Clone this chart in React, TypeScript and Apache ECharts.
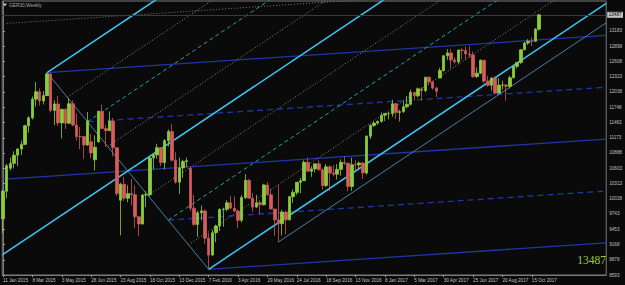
import React, { useEffect, useRef } from "react";
import * as echarts from "echarts";

// ---- axis labels ----
const dateLabels = [
  "11 Jan 2015", "8 Mar 2015", "3 May 2015", "28 Jun 2015", "23 Aug 2015", "18 Oct 2015",
  "13 Dec 2015", "7 Feb 2016", "3 Apr 2016", "29 May 2016", "24 Jul 2016", "18 Sep 2016",
  "13 Nov 2016", "8 Jan 2017", "5 Mar 2017", "30 Apr 2017", "25 Jun 2017", "20 Aug 2017", "15 Oct 2017",
];
const dateLabelWeeks = [0, 8, 16, 24, 32, 40, 48, 56, 64, 72, 80, 88, 96, 104, 112, 120, 128, 136, 144];
const priceLabels = [8593, 8878, 9168, 9453, 9743, 10028, 10313, 10603, 10888, 11173, 11463, 11748, 12038, 12323, 12608, 12898, 13183];

// ---- weekly OHLC, week index 0 = 11 Jan 2015 ----
const opens = [
  9650, 10168, 10600, 10694, 10846, 10963, 11050, 11401, 11550, 11901, 12040,
  11868, 11967, 12375, 11689, 11811, 11454, 11709, 11447, 11815, 11413,
  11197, 11196, 11040, 11100, 10760, 11100, 11673, 11347, 11308, 11490,
  10985, 10000, 10298, 10038, 10123, 10104, 9688, 9553, 10096, 10104,
  10795, 10850, 10988, 10708, 11119, 11293, 10752, 10340, 10608, 10727,
  10600, 9849, 9545, 9764, 9798, 9286, 8967, 9388, 9513, 9824,
  9831, 9950, 9851, 9794, 9622, 10051, 10373, 10039, 9870, 9952,
  9916, 10287, 10103, 9834, 9631, 9557, 9776, 9630, 10066, 10147,
  10337, 10367, 10713, 10544, 10588, 10684, 10573, 10276, 10627, 10511,
  10490, 10580, 10711, 10696, 10259, 10667, 10664, 10699, 10513, 11203,
  11404, 11450, 11481, 11599, 11629, 11630, 11814, 11651, 11666, 11757,
  11804, 12027, 11963, 12095, 12064, 12313, 12225, 12109, 12300, 12438,
  12717, 12770, 12638, 12602, 12823, 12815, 12752, 12733, 12325, 12389,
  12631, 12240, 12162, 12297, 12014, 12165, 12168, 12142, 12304, 12518,
  12592, 12829, 12956, 12992, 12991, 13217,
];
const highs = [
  10200, 10680, 10800, 10920, 10980, 11120, 11420, 11580, 11950, 12220, 12100,
  12050, 12400, 12390, 11880, 11960, 11720, 11730, 11920, 11880, 11630,
  11380, 11200, 11660, 11250, 11220, 11680, 11800, 11420, 11670, 11550,
  11000, 10330, 10440, 10280, 10400, 10280, 9700, 10120, 10170, 10830,
  10880, 11060, 11000, 11150, 11330, 11430, 10900, 10800, 10760, 10800,
  10620, 10100, 9800, 9900, 9830, 9390, 9440, 9540, 9850, 9860,
  10000, 10080, 10070, 9830, 10100, 10490, 10400, 10140, 10100, 10000,
  10310, 10340, 10210, 9840, 10280, 9820, 9800, 10080, 10200, 10340,
  10420, 10750, 10800, 10640, 10690, 10750, 10600, 10680, 10660, 10660,
  10680, 10770, 10830, 10700, 10800, 10750, 10730, 10720, 11220, 11430,
  11480, 11500, 11650, 11640, 11660, 11890, 11830, 11700, 11870, 11960,
  12080, 12040, 12120, 12130, 12320, 12330, 12250, 12130, 12490, 12720,
  12840, 12840, 12690, 12830, 12860, 12890, 12900, 12800, 12500, 12650,
  12640, 12340, 12320, 12330, 12300, 12250, 12180, 12340, 12530, 12600,
  12840, 12980, 13030, 13060, 13240, 13500,
];
const lows = [
  9380, 10040, 10560, 10600, 10640, 10850, 11040, 11270, 11520, 11760, 11780,
  11800, 11960, 11650, 11410, 11400, 11160, 11340, 11440, 11390, 11120,
  10960, 10780, 11020, 10790, 10560, 11080, 11340, 11000, 11300, 10820,
  10080, 9340, 9990, 9960, 9900, 9480, 9330, 9540, 9870, 10070,
  10580, 10780, 10640, 10580, 11010, 10730, 10310, 10120, 10420, 10620,
  9800, 9520, 9310, 9620, 9180, 8700, 8960, 9210, 9420, 9500,
  9790, 9830, 9780, 9480, 9580, 10020, 10030, 9780, 9860, 9740,
  9900, 10080, 9830, 9330, 9214, 9340, 9360, 9620, 9950, 10100,
  10130, 10360, 10540, 10440, 10520, 10560, 10200, 10250, 10170, 10450,
  10390, 10460, 10660, 10170, 10175, 10560, 10580, 10400, 10480, 11150,
  11380, 11420, 11460, 11490, 11520, 11570, 11530, 11480, 11640, 11730,
  11780, 11880, 11930, 11870, 12030, 12160, 12080, 11940, 12290, 12420,
  12640, 12480, 12570, 12560, 12650, 12630, 12680, 12300, 12300, 12370,
  12200, 12130, 12060, 11990, 12000, 12080, 11870, 12100, 12290, 12480,
  12560, 12820, 12920, 12900, 12980, 13190,
];
const closes = [
  10168, 10649, 10694, 10846, 10963, 11050, 11401, 11550, 11901, 12040, 11868,
  11967, 12375, 11689, 11811, 11454, 11709, 11447, 11815, 11413, 11197,
  11196, 11040, 11492, 10890, 10996, 11673, 11347, 11308, 11490, 10985,
  10124, 10298, 10038, 10123, 10104, 9688, 9553, 10096, 10104, 10795,
  10850, 10988, 10708, 11119, 11293, 10752, 10340, 10608, 10727, 10743,
  9849, 9545, 9764, 9798, 9286, 8967, 9388, 9513, 9824, 9831,
  9950, 9851, 9794, 9622, 10051, 10373, 10039, 9870, 9952, 9916,
  10287, 10103, 9834, 9631, 9557, 9776, 9630, 10066, 10147, 10337,
  10367, 10713, 10544, 10588, 10684, 10573, 10276, 10627, 10511, 10490,
  10580, 10711, 10696, 10259, 10667, 10664, 10699, 10513, 11203, 11404,
  11450, 11481, 11599, 11629, 11630, 11814, 11651, 11666, 11757, 11804,
  12027, 11963, 12095, 12064, 12313, 12225, 12109, 12049, 12438, 12717,
  12770, 12638, 12602, 12823, 12815, 12752, 12733, 12325, 12389, 12631,
  12240, 12162, 12297, 12014, 12165, 12168, 12142, 12304, 12518, 12592,
  12829, 12956, 12992, 12991, 13217, 13487,
];

// ---- drawing-tool anchors: [week index, price] ----
const pivotHigh = [12, 12400];
const pivotLow = [56, 8700];
const swingLow = [75, 9214];
const upperAnchor = [1, 13325];
const forkSlope = 46.2; // points per week (steep pitchfork)
const flatSlope = 4.6; // points per week (flat pitchfork)
const lastPrice = 13487;
const symbolTitle = "GER30,Weekly";

const X_MIN = -0.2;
const X_MAX = 164.25;
const Y_MIN = 8593;
const Y_MAX = 13747;

function ray(x0: number, y0: number, slope: number, xa: number, xb: number) {
  return [
    [xa, y0 + slope * (xa - x0)],
    [xb, y0 + slope * (xb - x0)],
  ];
}
function forkPoint(f: number) {
  return [pivotHigh[0] + f * (pivotLow[0] - pivotHigh[0]), pivotHigh[1] + f * (pivotLow[1] - pivotHigh[1])];
}
function lineSeries(data: number[][], color: string, width: number, type: any, z = 3) {
  return {
    type: "line",
    data,
    symbol: "none",
    silent: true,
    clip: true,
    z,
    lineStyle: { color, width, type },
  };
}

export default function App() {
  const ref = useRef<HTMLDivElement>(null);
  useEffect(() => {
    if (!ref.current) return;
    const chart = echarts.init(ref.current, null, { renderer: "svg" });
    const series: any[] = [];

    // diagonal between pivots
    series.push(lineSeries([pivotHigh, pivotLow], "#4a7ea8", 1, "solid"));

    // steep pitchfork
    const steep = [
      { f: 0, c: "#3fc0ef", w: 1.6, t: "solid" },
      { f: 0.125, c: "#8a8a8a", w: 1, t: [1, 2] },
      { f: 0.25, c: "#1aa6ab", w: 1, t: [4, 3] },
      { f: 0.375, c: "#8a8a8a", w: 1, t: [1, 2] },
      { f: 0.5, c: "#3fc0ef", w: 1.6, t: "solid" },
      { f: 0.625, c: "#8a8a8a", w: 1, t: [1, 2] },
      { f: 0.75, c: "#1aa6ab", w: 1, t: [4, 3] },
      { f: 0.875, c: "#8a8a8a", w: 1, t: [1, 2] },
      { f: 1, c: "#3fc0ef", w: 1.6, t: "solid" },
    ];
    steep.forEach((s) => {
      const p = forkPoint(s.f);
      const xa = s.f === 0.5 ? X_MIN : p[0];
      series.push(lineSeries(ray(p[0], p[1], forkSlope, xa, X_MAX), s.c, s.w, s.t, 4));
    });

    // flat pitchfork
    const flat = [
      { f: 0, t: "solid" },
      { f: 0.25, t: [6, 4] },
      { f: 0.5, t: "solid" },
      { f: 0.75, t: [6, 4] },
      { f: 1, t: "solid" },
    ];
    flat.forEach((s) => {
      const p = forkPoint(s.f);
      const xa = s.f === 0.5 ? X_MIN : p[0];
      series.push(lineSeries(ray(p[0], p[1], flatSlope, xa, X_MAX), "#1f37a6", 1.3, s.t, 3));
    });

    // parallel from swing low
    series.push(lineSeries(ray(swingLow[0], swingLow[1], forkSlope, swingLow[0], X_MAX), "#4a7ea8", 1, "solid"));
    // top dotted line
    series.push(lineSeries(ray(upperAnchor[0], upperAnchor[1], flatSlope, upperAnchor[0], X_MAX), "#7a7a7a", 1, [1, 2]));

    // candles
    series.push({
      type: "candlestick",
      data: opens.map((o, i) => [i, o, closes[i], lows[i], highs[i]]),
      barWidth: 3,
      z: 5,
      silent: true,
      itemStyle: {
        color: "#8ccb3c",
        color0: "#d85c5c",
        borderColor: "#8ccb3c",
        borderColor0: "#c85858",
        borderWidth: 0.8,
      },
      markLine: {
        symbol: "none",
        silent: true,
        lineStyle: { color: "#3a3a3a", width: 1, type: "solid" },
        label: {
          show: true,
          position: "end",
          distance: 1,
          formatter: String(lastPrice),
          fontSize: 4.6,
          fontFamily: "Liberation Sans",
          color: "#000",
          backgroundColor: "#c4c4c4",
          padding: [0.5, 1.5],
        },
        data: [{ yAxis: lastPrice }],
      },
    });

    chart.setOption({
      animation: false,
      backgroundColor: "#0a0a0a",
      grid: { left: 1, right: 18, top: 1, bottom: 10, show: true, borderColor: "#7a7a7a", borderWidth: 1 },
      xAxis: {
        type: "value",
        min: X_MIN,
        max: X_MAX,
        axisLine: { show: true, lineStyle: { color: "#7a7a7a" } },
        axisTick: { show: true, customValues: dateLabelWeeks, length: 2, lineStyle: { color: "#9a9a9a" } },
        axisLabel: {
          customValues: dateLabelWeeks,
          formatter: (v: number) => dateLabels[dateLabelWeeks.indexOf(Math.round(v))] ?? "",
          align: "left",
          fontSize: 4.6,
          fontFamily: "Liberation Sans",
          color: "#c0c0c0",
          margin: 3,
        },
        splitLine: { show: false },
      },
      yAxis: {
        type: "value",
        position: "right",
        min: Y_MIN,
        max: Y_MAX,
        axisLine: { show: true, lineStyle: { color: "#7a7a7a" } },
        axisTick: { show: true, customValues: priceLabels, length: 2, lineStyle: { color: "#9a9a9a" } },
        axisLabel: {
          customValues: priceLabels,
          formatter: (v: number) => String(Math.round(v)),
          fontSize: 4.6,
          fontFamily: "Liberation Sans",
          color: "#c0c0c0",
          margin: 3,
        },
        splitLine: { show: false },
      },
      graphic: [
        { type: "polygon", z: 100, shape: { points: [[3, 3.5], [7, 3.5], [5, 6.5]] }, style: { fill: "#bdbdbd" } },
        {
          type: "text",
          z: 100,
          x: 9,
          y: 5,
          style: { text: symbolTitle, fontSize: 4.8, fontFamily: "Liberation Sans", fill: "#a8a8a8", textVerticalAlign: "middle" },
        },
        {
          type: "text",
          z: 100,
          x: 606,
          y: 260,
          style: {
            text: String(lastPrice),
            fontSize: 11.5,
            fontFamily: "Liberation Serif",
            fill: "#9acd32",
            textAlign: "right",
            textVerticalAlign: "middle",
          },
        },
      ],
      series,
    });
    return () => chart.dispose();
  }, []);
  return <div ref={ref} style={{ position: "fixed", left: 0, top: 0, width: 625, height: 285 }} />;
}
